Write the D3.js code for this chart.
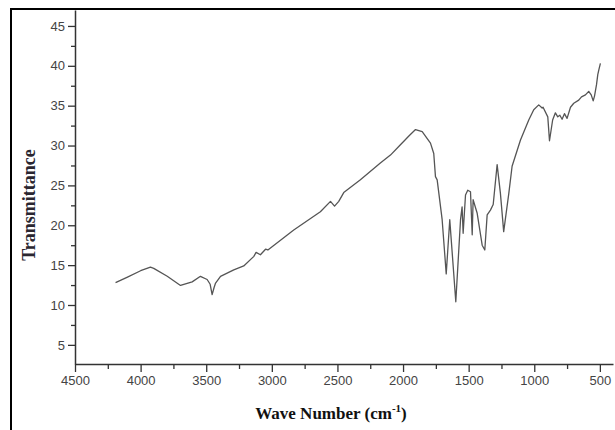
<!DOCTYPE html>
<html>
<head>
<meta charset="utf-8">
<script src="https://cdn.jsdelivr.net/npm/d3@7"></script>
<style>
  body { margin: 0; background: #fff; }
  svg { display: block; }
</style>
</head>
<body>
<svg></svg>
<script>
// spectrum
var waveNumbers = [4191, 4100, 4000, 3925, 3900, 3797, 3696, 3607, 3544, 3493, 3470, 3455, 3440, 3430, 3391, 3290,
  3214, 3137, 3120, 3087, 3048, 3030, 2833, 2630, 2553, 2522, 2490, 2452, 2325, 2173, 2096, 2020, 1950, 1905,
  1854, 1791, 1766, 1753, 1740, 1702, 1671, 1644, 1598, 1562, 1550, 1542, 1524, 1507, 1486, 1473, 1466, 1435,
  1397, 1377, 1359, 1334, 1313, 1283, 1258, 1233, 1194, 1169, 1105, 1042, 1004, 966, 940, 933, 897, 884, 860,
  839, 821, 805, 788, 770, 750, 724, 699, 661, 640, 610, 585, 566, 551, 541, 526, 516, 508, 496];
var transmittance = [12.8, 13.5, 14.3, 14.75, 14.6, 13.6, 12.45, 12.9, 13.6, 13.2, 12.6, 11.3, 12.2, 12.7, 13.6, 14.4,
  14.9, 16.1, 16.6, 16.3, 17.0, 16.9, 19.4, 21.7, 23.0, 22.4, 23.0, 24.1, 25.7, 27.8, 28.8, 30.1, 31.3, 32.0,
  31.75, 30.3, 29.0, 26.1, 25.7, 20.7, 13.9, 20.7, 10.4, 20.7, 22.3, 19.0, 23.8, 24.4, 24.2, 18.8, 23.2, 21.5,
  17.5, 16.9, 21.3, 21.9, 22.6, 27.6, 24.0, 19.2, 24.0, 27.4, 30.7, 33.2, 34.5, 35.1, 34.7, 34.8, 33.6, 30.6, 33.2,
  34.1, 33.6, 33.8, 33.3, 34.0, 33.4, 34.8, 35.3, 35.7, 36.1, 36.35, 36.8, 36.35, 35.6, 36.2, 37.6, 38.9, 39.5, 40.3];
var xTicks = [4500, 4000, 3500, 3000, 2500, 2000, 1500, 1000, 500];
var yTicks = [5, 10, 15, 20, 25, 30, 35, 40, 45];

var data = waveNumbers.map(function(w, i) { return { w: w, t: transmittance[i] }; });

var width = 615, height = 430;
var svg = d3.select("svg").attr("width", width).attr("height", height);

// outer frame (only left and top edges fall inside the window)
svg.append("rect")
  .attr("x", 11).attr("y", 9)
  .attr("width", 610).attr("height", 430)
  .attr("fill", "none").attr("stroke", "#000").attr("stroke-width", 2);

var x = d3.scaleLinear().domain([4500, 400]).range([75, 613]);
var y = d3.scaleLinear().domain([2.6, 47]).range([364, 10]);

var axisColor = "#333";

// minor ticks
svg.append("g")
  .attr("transform", "translate(0,364)")
  .call(d3.axisBottom(x).tickValues(d3.range(4250, 400, -500)).tickSize(5).tickFormat(""))
  .call(function(g) { g.select(".domain").remove(); })
  .selectAll("line").attr("stroke", axisColor).attr("stroke-width", 1.3);

svg.append("g")
  .attr("transform", "translate(75,0)")
  .call(d3.axisLeft(y).tickValues(d3.range(7.5, 47, 5)).tickSize(4).tickFormat(""))
  .call(function(g) { g.select(".domain").remove(); })
  .selectAll("line").attr("stroke", axisColor).attr("stroke-width", 1.3);

var xAxis = svg.append("g")
  .attr("transform", "translate(0,364)")
  .call(d3.axisBottom(x).tickValues(xTicks).tickFormat(d3.format("d"))
    .tickSize(8).tickPadding(4).tickSizeOuter(0));

var yAxis = svg.append("g")
  .attr("transform", "translate(75,0)")
  .call(d3.axisLeft(y).tickValues(yTicks).tickFormat(d3.format("d"))
    .tickSize(7).tickPadding(3).tickSizeOuter(0));

[xAxis, yAxis].forEach(function(g) {
  g.select(".domain").attr("stroke", axisColor).attr("stroke-width", 1.5);
  g.selectAll(".tick line").attr("stroke", axisColor).attr("stroke-width", 1.3);
  g.selectAll(".tick text")
    .attr("fill", "#444")
    .style("font-family", "'Liberation Sans', Arial, sans-serif")
    .style("font-size", "13px");
});

// spectrum
var line = d3.line()
  .x(function(d) { return x(d.w); })
  .y(function(d) { return y(d.t); });

svg.append("path")
  .datum(data)
  .attr("d", line)
  .attr("fill", "none")
  .attr("stroke", "#555")
  .attr("stroke-width", 1.3)
  .attr("stroke-linejoin", "round");

// axis titles
svg.append("text")
  .attr("transform", "translate(35,205) rotate(-90)")
  .attr("text-anchor", "middle")
  .attr("fill", "#2a2630")
  .style("font-family", "'Liberation Serif', 'Times New Roman', serif")
  .style("font-weight", "bold")
  .style("font-size", "18px")
  .text("Transmittance");

var xt = svg.append("text")
  .attr("x", 331).attr("y", 419)
  .attr("text-anchor", "middle")
  .attr("fill", "#111")
  .style("font-family", "'Liberation Serif', 'Times New Roman', serif")
  .style("font-weight", "bold")
  .style("font-size", "17px");
xt.append("tspan").text("Wave Number (cm");
xt.append("tspan").attr("dy", -7).style("font-size", "11px").text("-1");
xt.append("tspan").attr("dy", 7).text(")");
</script>
</body>
</html>
